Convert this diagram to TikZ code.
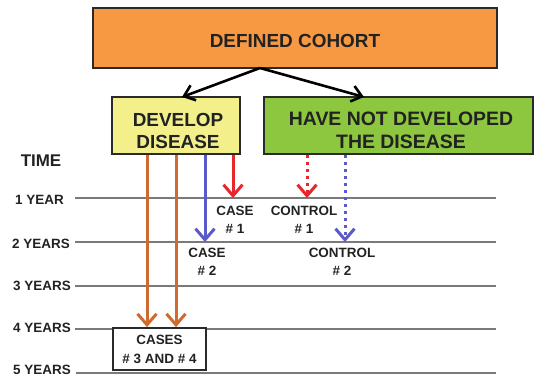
\documentclass[tikz,border=0pt]{standalone}
\usepackage{fontspec}
\setmainfont{Liberation Sans}
\usetikzlibrary{arrows.meta}
\definecolor{cohortfill}{HTML}{F79843}
\definecolor{yellowfill}{HTML}{F3F08C}
\definecolor{greenfill}{HTML}{8DC63F}
\definecolor{boxline}{HTML}{2A2A2A}
\definecolor{txt}{HTML}{222222}
\definecolor{orangearrow}{HTML}{D06A2E}
\definecolor{bluearrow}{HTML}{5A5AC8}
\definecolor{redarrow}{HTML}{E8262B}
\definecolor{gridline}{HTML}{7A7A7A}
\begin{document}
\begin{tikzpicture}[x=1bp,y=-1bp,
  box/.style={draw=boxline,line width=1.8bp,inner sep=0pt},
  boxtext/.style={inner sep=0pt,align=center,text=txt,font=\bfseries\fontsize{19}{23}\selectfont},
  yearlbl/.style={anchor=east,inner sep=0pt,text=txt,font=\bfseries\fontsize{13.5}{16}\selectfont},
  lbl/.style={inner sep=0pt,align=center,text=txt,font=\bfseries\fontsize{13.5}{18}\selectfont},
  timeline/.style={draw=gridline,line width=1.6bp},
  vtip/.style={-{Straight Barb[length=11bp,width=19bp]}},
  varrow/.style={vtip,line width=3bp},
  dottedline/.style={dash pattern=on 3bp off 4bp},
  blackarrow/.style={-{Straight Barb[length=10bp,width=16bp]},line width=2.6bp,draw=black}
]
\useasboundingbox (0,0) rectangle (535,378);

% time lines
\coordinate (l1a) at (75,198); \coordinate (l1b) at (496,198);
\coordinate (l2a) at (75,242); \coordinate (l2b) at (496,242);
\coordinate (l3a) at (75,286); \coordinate (l3b) at (496,286);
\coordinate (l4a) at (75,329); \coordinate (l4b) at (496,329);
\coordinate (l5a) at (76,373); \coordinate (l5b) at (496,373);
\draw[timeline] (l1a) -- (l1b);
\draw[timeline] (l2a) -- (l2b);
\draw[timeline] (l3a) -- (l3b);
\draw[timeline] (l4a) -- (l4b);
\draw[timeline] (l5a) -- (l5b);

% time labels
\node[anchor=center,inner sep=0pt,text=txt,font=\bfseries\fontsize{17}{20}\selectfont] (time) at (41,161) {TIME};
\node[yearlbl] (y1) at (64,200) {1 YEAR};
\node[yearlbl] (y2) at (70,244) {2 YEARS};
\node[yearlbl] (y3) at (71,286) {3 YEARS};
\node[yearlbl] (y4) at (71,328) {4 YEARS};
\node[yearlbl] (y5) at (71,370) {5 YEARS};

% boxes
\node[box,fill=cohortfill,minimum width=404bp,minimum height=60bp] (cohort) at (295,38) {};
\node[boxtext] (cohorttxt) at (295,41) {DEFINED COHORT};
\node[box,fill=yellowfill,minimum width=128bp,minimum height=57bp] (develop) at (176,125.5) {};
\node[boxtext] (developtxt) at (178,131) {DEVELOP\\DISEASE};
\node[box,fill=greenfill,minimum width=269bp,minimum height=57bp] (notdev) at (398.5,125.5) {};
\node[boxtext,font=\bfseries\fontsize{19.5}{23}\selectfont] (notdevtxt) at (401,130) {HAVE NOT DEVELOPED\\THE DISEASE};
\node[box,fill=white,minimum width=93bp,minimum height=42bp,align=center,text=txt,font=\bfseries\fontsize{13.5}{19}\selectfont] (cases34) at (159.5,349) {CASES\\\# 3 AND \# 4};

% split arrows
\coordinate (split) at (260,68);
\coordinate (tipdev) at (182,97);
\coordinate (tipnot) at (364,97);
\draw[blackarrow] (split) -- (tipdev);
\draw[blackarrow] (split) -- (tipnot);

% vertical arrows
\coordinate (o1) at (147,0);
\coordinate (o2) at (176,0);
\coordinate (b1) at (205,242);
\coordinate (r1) at (233,198);
\coordinate (rd) at (307,198);
\coordinate (bd) at (345,242);
\draw[varrow,draw=orangearrow] (develop.south -| o1) -- (cases34.north -| o1);
\draw[varrow,draw=orangearrow] (develop.south -| o2) -- (cases34.north -| o2);
\draw[varrow,draw=bluearrow] (develop.south -| b1) -- (b1);
\draw[varrow,draw=redarrow] (develop.south -| r1) -- (r1);
\draw[varrow,draw=redarrow,dottedline] (notdev.south -| rd) -- (rd);
\draw[varrow,draw=bluearrow,dottedline] (notdev.south -| bd) -- (bd);

% labels
\node[lbl] (case1) at (235,220) {CASE\\\# 1};
\node[lbl] (control1) at (304,220) {CONTROL\\\# 1};
\node[lbl] (case2) at (207,262) {CASE\\\# 2};
\node[lbl] (control2) at (342,262) {CONTROL\\\# 2};
\end{tikzpicture}
\end{document}
